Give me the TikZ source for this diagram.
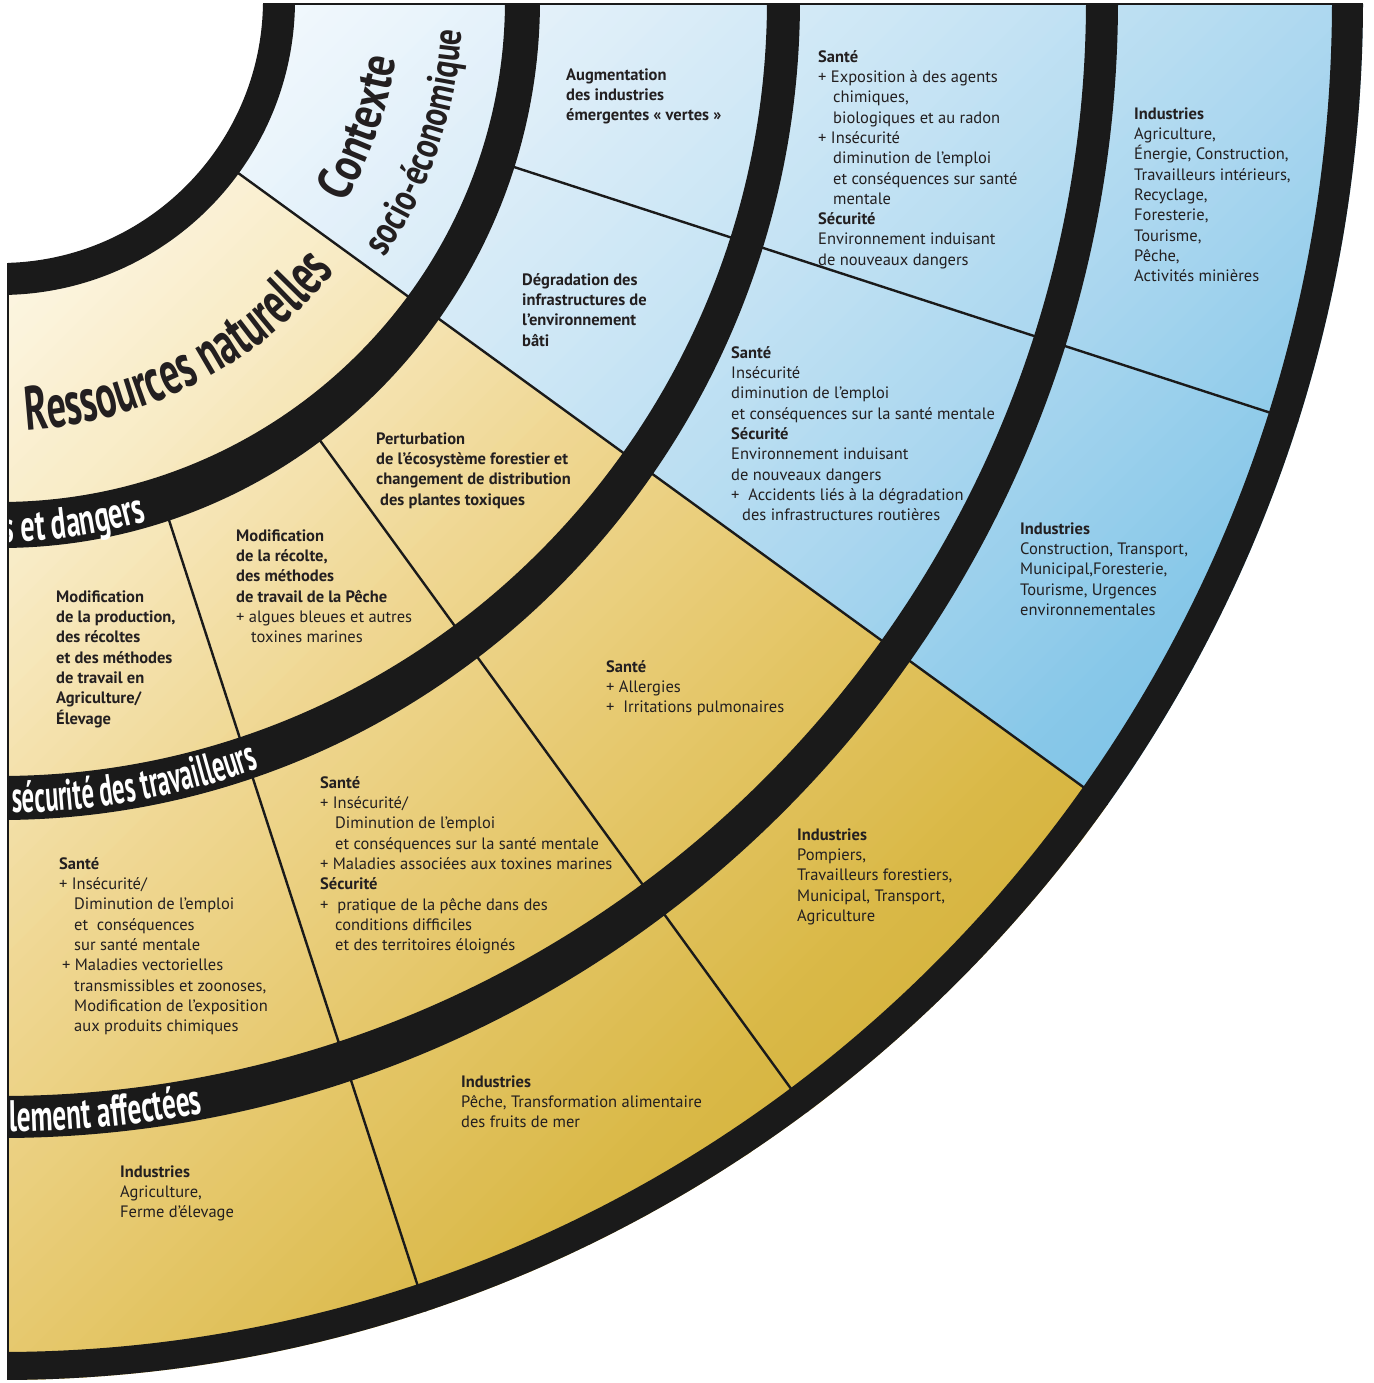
\documentclass[tikz,border=0pt]{standalone}
\usepackage{fontspec}
\setmainfont{PT Sans}
\newfontfamily\fRes[FakeStretch=0.62]{PT Sans}
\newfontfamily\fCon[FakeStretch=0.80]{PT Sans}
\newfontfamily\fSoc[FakeStretch=0.78]{PT Sans}
\newfontfamily\fBand[FakeStretch=0.62]{PT Sans}
\newfontfamily\fBandA[FakeStretch=0.64]{PT Sans}
\newfontfamily\fBandB[FakeStretch=0.56]{PT Sans}
\usetikzlibrary{decorations.text}
\definecolor{bl0}{HTML}{F7FBFE}
\definecolor{bl1}{HTML}{E0EFF9}
\definecolor{bl2}{HTML}{C7E4F4}
\definecolor{bl3}{HTML}{A9D6EF}
\definecolor{bl4}{HTML}{86C7E8}
\definecolor{bl5}{HTML}{76BFE4}
\definecolor{ye0}{HTML}{FDF8EA}
\definecolor{ye1}{HTML}{F8EBC4}
\definecolor{ye2}{HTML}{EFD792}
\definecolor{ye3}{HTML}{E5C76A}
\definecolor{ye4}{HTML}{D9B846}
\definecolor{ye5}{HTML}{D2AE35}
\definecolor{ink}{HTML}{231F20}
\definecolor{bandblack}{HTML}{1A1A1A}
\newcommand\firstl{\rule{0pt}{14pt}}
\newcommand\indd{\hspace*{15pt}}
\newcommand\bodysize{\fontsize{16.5}{20.3}\selectfont}
\newcommand\mystripes[1]{%
  \foreach \i in {0,...,113}{%
    \pgfmathsetmacro{\sA}{\i*20}%
    \pgfmathsetmacro{\sB}{\sA+23}%
    \pgfmathsetmacro{\sM}{\sA+10}%
    \pgfmathtruncatemacro{\kA}{min(4,max(0,floor((\sM-200)/400)))}%
    \pgfmathtruncatemacro{\kB}{\kA+1}%
    \pgfmathtruncatemacro{\fr}{max(0,min(100,round((\sM-200-400*\kA)/4)))}%
    \colorlet{stc}{#1\kB!\fr!#1\kA}%
    \fill[stc] ({\sA-1500},-1500) -- ({\sA+100},100) -- ({\sB+100},100) -- ({\sB-1500},-1500) -- cycle;
  }}
\begin{document}
\begin{tikzpicture}[x=1pt,y=1pt,
  cell/.style={anchor=north west, inner sep=0pt, align=left, font=\bodysize, text=ink},
  cellb/.style={cell, font=\bodysize\bfseries},
  divider/.style={draw=bandblack, line width=2.4pt},
  band/.style={fill=bandblack, even odd rule},
  frameline/.style={draw=bandblack, line width=2pt}]
\fill[white] (0,0) rectangle (1373,-1383);
\useasboundingbox (0,0) rectangle (1373,-1383);
\begin{scope}
  \clip (8,-5) rectangle (1373,-1383);
  \clip (0,0) ellipse [x radius=1363pt, y radius=1380pt];
  \begin{scope}
    \clip (0,0) -- (0:1600pt) -- (-36:1600pt) -- cycle;
    \mystripes{bl}
  \end{scope}
  \begin{scope}
    \clip (0,0) -- (-36:1600pt) -- (-90:1600pt) -- cycle;
    \mystripes{ye}
  \end{scope}
  \fill[white] (0,0) circle [radius=264pt];
  % radial dividers
  \draw[divider] (-36:280pt) -- (-36:1400pt);
  \draw[divider] (-18:515pt) -- (-18:1400pt);
  \draw[divider] (-54:515pt) -- (-54:1400pt);
  \draw[divider] (-72:515pt) -- (-72:1400pt);
  % black rings
  \path[band] (0,0) circle [radius=295pt] (0,0) circle [radius=263pt];
  \path[band] (0,0) ellipse [x radius=540pt, y radius=548pt] (0,0) ellipse [x radius=505pt, y radius=502pt];
  \path[band] (0,0) ellipse [x radius=800pt, y radius=820pt] (0,0) ellipse [x radius=767pt, y radius=776pt];
  \path[band] (0,0) ellipse [x radius=1118pt, y radius=1138pt] (0,0) ellipse [x radius=1086pt, y radius=1096pt];
  \path[band] (0,0) ellipse [x radius=1420pt, y radius=1440pt] (0,0) ellipse [x radius=1332pt, y radius=1352pt];
  % labels on the rings
  \path[decorate, decoration={text along path, text color=white, text align=left,
     text={|\fBandA\bfseries\fontsize{44}{44}\selectfont|s et dangers}}]
     (-89.7:533pt and 542pt) arc [start angle=-89.7, end angle=-55, x radius=533pt, y radius=542pt];
  \path[decorate, decoration={text along path, text color=white, text align=left,
     text={|\fBandB\bfseries\fontsize{44}{44}\selectfont|sécurité des travailleurs}}]
     (-89.1:794pt and 813pt) arc [start angle=-89.1, end angle=-55, x radius=794pt, y radius=813pt];
  \path[decorate, decoration={text along path, text color=white, text align=left,
     text={|\fBand\bfseries\fontsize{44}{44}\selectfont|lement affectées}}]
     (-89.5:1111pt and 1132pt) arc [start angle=-89.5, end angle=-65, x radius=1111pt, y radius=1132pt];
\end{scope}
\draw[frameline] (263,-4.5) -- (1363,-4.5);
\draw[frameline] (8,-263) -- (8,-1380);
% ring titles
\path[decorate, decoration={text along path, text color=ink, text align=center,
   text={|\fRes\bfseries\fontsize{62}{62}\selectfont|Ressources naturelles}}]
   (-92.75:431pt) arc [start angle=-92.75, end angle=-32.75, radius=431pt];
\path[decorate, decoration={text along path, text color=ink, text align=center,
   text={|\fCon\bfseries\fontsize{50}{50}\selectfont|Contexte}}]
   (-40:400pt) arc [start angle=-40, end angle=1, radius=400pt];
\path[decorate, decoration={text along path, text color=ink, text align=center,
   text={|\fSoc\bfseries\fontsize{40}{40}\selectfont|socio-économique}}]
   (-40.8:463pt) arc [start angle=-40.8, end angle=3.2, radius=463pt];
% cell texts
\node[cellb] (c1) at (566,-66) {\firstl Augmentation\\des industries\\émergentes «~vertes~»};
\node[cell] (c2) at (818,-48) {\firstl\textbf{Santé}\\+ Exposition à des agents\\\indd chimiques,\\\indd biologiques et au radon\\+ Insécurité\\\indd diminution de l’emploi\\\indd et conséquences sur santé\\\indd mentale\\\textbf{Sécurité}\\Environnement induisant\\de nouveaux dangers};
\node[cell] (c3) at (1134,-105) {\firstl\textbf{Industries}\\Agriculture,\\Énergie, Construction,\\Travailleurs intérieurs,\\Recyclage,\\Foresterie,\\Tourisme,\\Pêche,\\Activités minières};
\node[cellb] (c4) at (522,-271) {\firstl Dégradation des\\infrastructures de\\l’environnement\\bâti};
\node[cell] (c5) at (731,-344) {\firstl\textbf{Santé}\\Insécurité\\diminution de l’emploi\\et conséquences sur la santé mentale\\\textbf{Sécurité}\\Environnement induisant\\de nouveaux dangers\\+\ \ Accidents liés à la dégradation\\\hspace*{11pt}des infrastructures routières};
\node[cell] (c6) at (1020,-520) {\firstl\textbf{Industries}\\Construction, Transport,\\Municipal,Foresterie,\\Tourisme, Urgences\\environnementales};
\node[cellb] (c7) at (376,-430) {\firstl Perturbation\\de l’écosystème forestier et\\changement de distribution\\\hspace*{4pt}des plantes toxiques};
\node[cell] (c8) at (236,-527) {\firstl\textbf{Modification}\\\textbf{de la récolte,}\\\textbf{des méthodes}\\\textbf{de travail de la Pêche}\\+ algues bleues et autres\\\indd toxines marines};
\node[cellb] (c9) at (56,-588) {\firstl Modification\\de la production,\\des récoltes\\et des méthodes\\de travail en\\Agriculture/\\Élevage};
\node[cell] (c10) at (606,-658) {\firstl\textbf{Santé}\\+ Allergies\\+\ \ Irritations pulmonaires};
\node[cell] (c11) at (797,-826) {\firstl\textbf{Industries}\\Pompiers,\\Travailleurs forestiers,\\Municipal, Transport,\\Agriculture};
\node[cell] (c12) at (320,-774) {\firstl\textbf{Santé}\\+ Insécurité/\\\indd Diminution de l’emploi\\\indd et conséquences sur la santé mentale\\+ Maladies associées aux toxines marines\\\textbf{Sécurité}\\+\ \ pratique de la pêche dans des\\\indd conditions difficiles\\\indd et des territoires éloignés};
\node[cell] (c13) at (59,-855) {\firstl\textbf{Santé}\\+ Insécurité/\\\indd Diminution de l’emploi\\\indd et\ \ conséquences\\\indd sur santé mentale\\\hspace*{3pt}+ Maladies vectorielles\\\indd transmissibles et zoonoses,\\\indd Modification de l’exposition\\\indd aux produits chimiques};
\node[cell] (c14) at (461,-1073) {\firstl\textbf{Industries}\\Pêche, Transformation alimentaire\\des fruits de mer};
\node[cell] (c15) at (120,-1163) {\firstl\textbf{Industries}\\Agriculture,\\Ferme d’élevage};
\end{tikzpicture}
\end{document}
